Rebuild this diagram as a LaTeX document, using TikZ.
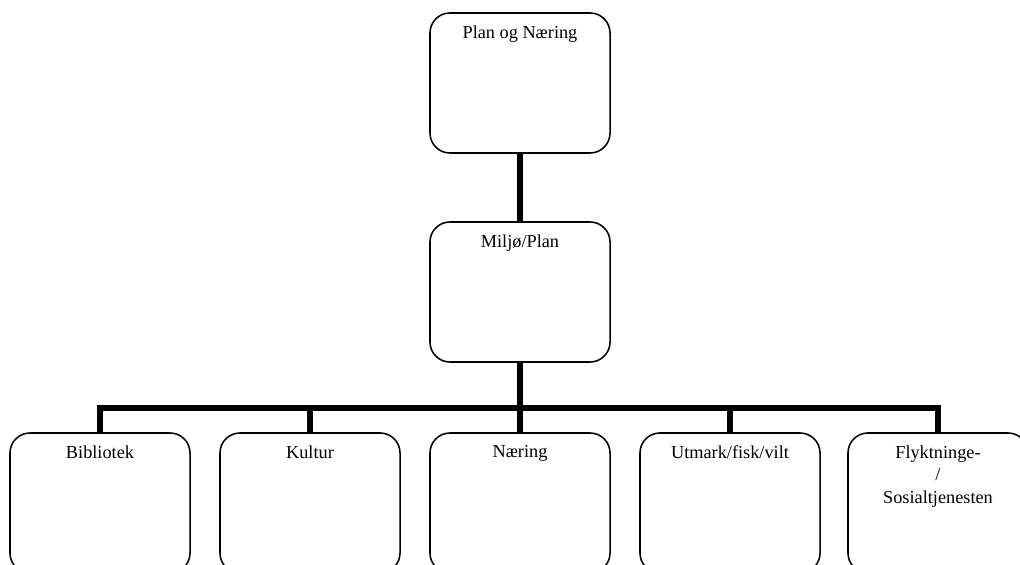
\documentclass[tikz,border=0pt]{standalone}
\usepackage{fontspec}
\setmainfont{Liberation Serif}
\begin{document}
\begin{tikzpicture}[x=0.025cm,y=-0.025cm]

      \tikzset{enhet/.style={draw, rounded corners=0.5cm, line width=1.1pt, minimum width=4.5cm, minimum height=3.5cm, inner sep=0pt},
               tekst/.style={anchor=north, yshift=-6pt, align=center, font=\fontsize{13}{16}\selectfont},
               linje/.style={line width=3.6pt}}
      \useasboundingbox (0,0) rectangle (1020,565);
% Enheter
	%Ledelse
      	\node[enhet, label={[tekst]north:Plan og Næring}] (plan) at (520,83) {};
      	\node[enhet, label={[tekst]north:Miljø/Plan}] (miljo) at (520,292) {};
	%Avdelinger
      	\node[enhet, label={[tekst]north:Bibliotek}] (bib) at (100,503) {};
      	\node[enhet, label={[tekst]north:Kultur}] (kultur) at (310,503) {};
      	\node[enhet, label={[tekst]north:Næring}] (naering) at (520,503) {};
      	\node[enhet, label={[tekst]north:Utmark/fisk/vilt}] (utmark) at (730,503) {};
      	\node[enhet, label={[tekst]north:Flyktninge-\\/\\Sosialtjenesten}] (flykt) at (938,503) {};
      	\coordinate (skinne) at (520,408);
%Linjer
		\draw[linje] (plan) -- (miljo);
		\draw[linje] (miljo) -- (skinne) -| (bib);
		\draw[linje] (skinne) -| (kultur);
		\draw[linje] (skinne) -| (naering);
		\draw[linje] (skinne) -| (utmark);
		\draw[linje] (skinne) -| (flykt);

\end{tikzpicture}
\end{document}
